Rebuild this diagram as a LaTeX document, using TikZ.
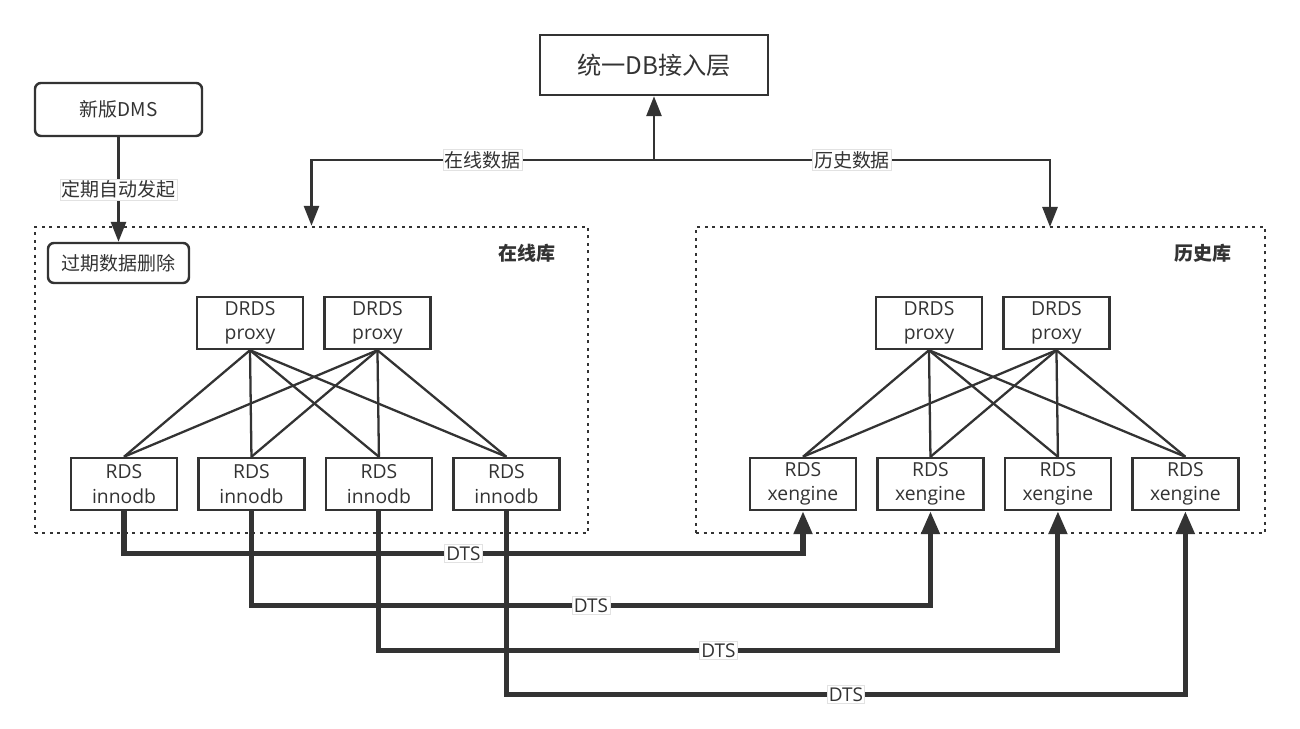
\documentclass[tikz,border=0pt]{standalone}
\usepackage{fontspec}
\setmainfont{Open Sans}
\newfontfamily\cjk{Noto Sans CJK SC}
\usepackage{xcolor}
\usepackage{tikz}
\usetikzlibrary{positioning,calc,arrows.meta}
\definecolor{ink}{HTML}{333333}
\definecolor{lblrule}{HTML}{E2E2E2}
\tikzset{
  % --- boxes ---
  dbbox/.style={draw=ink, line width=1.4pt, align=center, text=ink,
                minimum width=21.2mm, minimum height=10.4mm, inner sep=0pt,
                font=\fontsize{11}{13.8}\selectfont},
  roundbox/.style={dbbox, rounded corners=1.2mm,
                   font=\cjk\fontsize{10.8}{13}\selectfont},
  zone/.style={draw=ink, line width=1.4pt, dash pattern=on 0.6mm off 0.9mm,
               inner sep=0pt},
  zonelabel/.style={font=\cjk\bfseries\fontsize{10.8}{13}\selectfont, text=ink},
  % --- labels on connectors ---
  lbl/.style={fill=white, draw=lblrule, line width=0.3pt, inner sep=1pt,
              text=ink, font=\cjk\fontsize{10.8}{13}\selectfont},
  dtslbl/.style={lbl, font=\fontsize{10.8}{13}\selectfont},
  % --- connectors ---
  flow/.style={draw=ink, line width=1.6pt, -{Triangle[length=4mm,width=3mm]}},
  dtsflow/.style={draw=ink, line width=2.9pt,
                  -{Triangle[length=4.6mm,width=3.6mm]}},
  mesh/.style={draw=ink, line width=1.3pt},
}
\begin{document}
\begin{tikzpicture}[x=0.2mm, y=-0.2mm, node distance=3.8mm]
  \useasboundingbox (0,0) rectangle (1300,729);
  \node[dbbox, minimum width=45.6mm, minimum height=12mm,
        font=\cjk\fontsize{13.8}{16}\selectfont] (unified) at (654,65) {统一DB接入层};
  \node[roundbox, minimum width=33.4mm, minimum height=10.6mm] (dms) at (118.5,109.5) {新版DMS};
  \node[zone, minimum width=110.6mm, minimum height=61.2mm] (online) at (311.5,380) {};
  \node[zone, minimum width=113.8mm, minimum height=61.2mm] (history) at (980.5,380) {};
  \node[zonelabel] (onlinelbl) at (527,253) {在线库};
  \node[zonelabel] (historylbl) at (1203,253) {历史库};
  \node[roundbox, minimum width=28.2mm, minimum height=8mm] (purge) at (118.5,263) {过期数据删除};
  % online side
  \node[dbbox] (p1) at (250,323) {DRDS\\proxy};
  \node[dbbox, right=of p1] (p2) {DRDS\\proxy};
  \node[dbbox] (r1) at (124,484) {RDS\\innodb};
  \node[dbbox, right=of r1] (r2) {RDS\\innodb};
  \node[dbbox, right=of r2] (r3) {RDS\\innodb};
  \node[dbbox, right=of r3] (r4) {RDS\\innodb};
  % history side
  \node[dbbox] (q1) at (929,323) {DRDS\\proxy};
  \node[dbbox, right=of q1] (q2) {DRDS\\proxy};
  \node[dbbox] (x1) at (803,484) {RDS\\xengine};
  \node[dbbox, right=of x1] (x2) {RDS\\xengine};
  \node[dbbox, right=of x2] (x3) {RDS\\xengine};
  \node[dbbox, right=of x3] (x4) {RDS\\xengine};
  \foreach \p in {p1,p2} \foreach \r in {r1,r2,r3,r4} \draw[mesh] (\p.south) -- (\r.north);
  \foreach \p in {q1,q2} \foreach \r in {x1,x2,x3,x4} \draw[mesh] (\p.south) -- (\r.north);
  % access layer
  \coordinate (fork) at (654,160);
  \coordinate (histin) at (1050,227);
  \draw[flow] (fork) -- (unified);
  \draw[flow] (fork) -| node[lbl, pos=0.25] {在线数据} (online.north);
  \draw[flow] (fork) -| node[lbl, pos=0.25] {历史数据} (histin);
  \draw[flow] (dms) -- node[lbl] {定期自动发起} (purge);
  % DTS sync
  \foreach \i/\d in {1/42,2/94,3/139,4/183}
    \draw[dtsflow] (r\i.south) -- ++(0,\d) -| node[dtslbl, pos=0.25] {DTS} (x\i.south);
\end{tikzpicture}
\end{document}
